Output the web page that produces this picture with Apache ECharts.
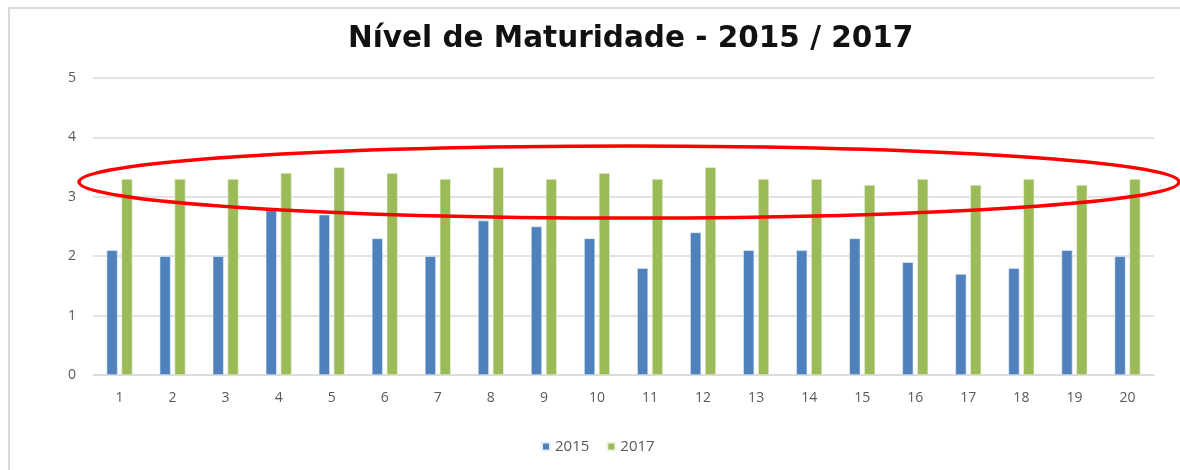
<!DOCTYPE html>
<html>
<head>
<meta charset="utf-8">
<script src="https://cdn.jsdelivr.net/npm/echarts@6/dist/echarts.min.js"></script>
<style>html,body{margin:0;padding:0;background:#fff}#c{width:1180px;height:470px}</style>
</head>
<body>
<div id="c"></div>
<script>
const categories = ['1','2','3','4','5','6','7','8','9','10','11','12','13','14','15','16','17','18','19','20'];
const values2015 = [2.1,2.0,2.0,2.8,2.7,2.3,2.0,2.6,2.5,2.3,1.8,2.4,2.1,2.1,2.3,1.9,1.7,1.8,2.1,2.0];
const values2017 = [3.3,3.3,3.3,3.4,3.5,3.4,3.3,3.5,3.3,3.4,3.3,3.5,3.3,3.3,3.2,3.3,3.2,3.3,3.2,3.3];
const seriesNames = ['2015','2017'];
const titleText = 'Nível de Maturidade - 2015 / 2017';

const chart = echarts.init(document.getElementById('c'), null, {renderer:'canvas'});
chart.setOption({
  animation:false,
  backgroundColor:'#fff',
  title:{text:titleText,left:343,top:19,textStyle:{fontFamily:'DejaVu Sans',fontWeight:'bold',fontSize:29.5,color:'#111'}},
  grid:{left:93,right:26,top:78,bottom:95},
  legend:{bottom:11,left:536,itemWidth:8,itemHeight:8,itemGap:17,icon:'rect',
    textStyle:{fontFamily:'Open Sans',fontSize:15,color:'#595959'},data:seriesNames},
  xAxis:{type:'category',data:categories,
    axisLine:{lineStyle:{color:'#d9d9d9',width:1.5}},axisTick:{show:false},
    axisLabel:{fontFamily:'Open Sans',fontSize:14,color:'#595959',margin:16}},
  yAxis:{type:'value',min:0,max:5,interval:1,
    axisLine:{show:false},axisTick:{show:false},
    axisLabel:{fontFamily:'Open Sans',fontSize:14,color:'#595959',margin:17},
    splitLine:{lineStyle:{color:'#d9d9d9',width:1.5}}},
  series:[
    {name:seriesNames[0],type:'bar',data:values2015,barWidth:11,barGap:'35%',
     itemStyle:{color:'#4F81BD',borderColor:'#e8eef6',borderWidth:0.6}},
    {name:seriesNames[1],type:'bar',data:values2017,barWidth:11,barGap:'35%',
     itemStyle:{color:'#9BBB59',borderColor:'#eef3e4',borderWidth:0.6}}
  ],
  graphic:[
    {type:'rect',shape:{x:9,y:8,width:1200,height:500},style:{fill:'none',stroke:'#d9d9d9',lineWidth:2},z:-1},
    {type:'ellipse',shape:{cx:629,cy:182,rx:550,ry:36},style:{fill:'none',stroke:'#ff0000',lineWidth:3.5},z:100}
  ]
});
</script>
</body>
</html>
